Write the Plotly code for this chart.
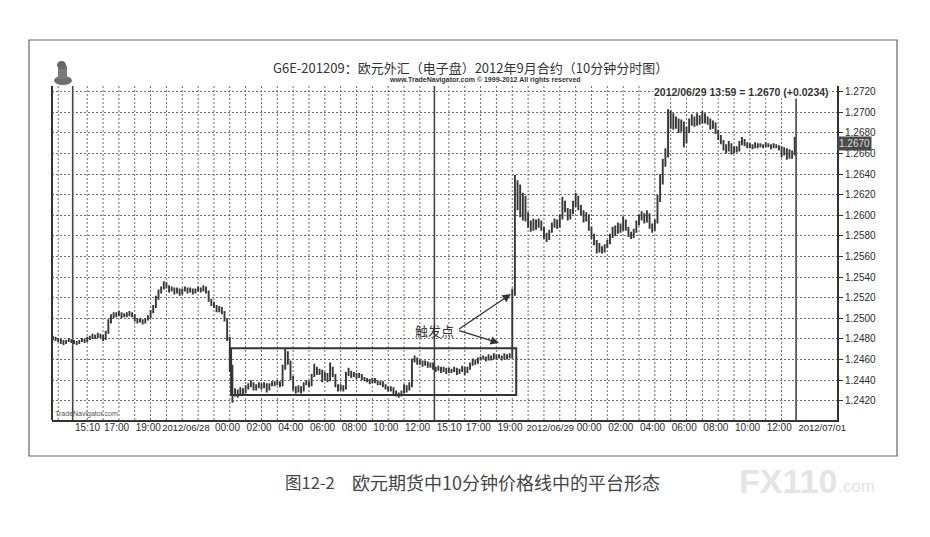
import numpy as np
import pandas as pd
import plotly.graph_objects as go

# ---------------- data ----------------
# 10-minute bars, three trading sessions (session start time, number of bars)
session_start = ["2012-06-27 12:40", "2012-06-27 15:10", "2012-06-28 15:10"]
session_bars = [8, 137, 137]

close = [
    1.2481, 1.2480, 1.2479, 1.2477, 1.2476, 1.2478, 1.2479, 1.2478,
    1.2477, 1.2476, 1.2478, 1.2479, 1.2478, 1.2480, 1.2481, 1.2483, 1.2482, 1.2484, 1.2483, 1.2480,
    1.2486, 1.2497, 1.2502, 1.2504, 1.2503, 1.2505, 1.2502, 1.2504, 1.2503, 1.2505, 1.2503,
    1.2499, 1.2497, 1.2498, 1.2496, 1.2499, 1.2501, 1.2506, 1.2511, 1.2520, 1.2526, 1.2529, 1.2533, 1.2531,
    1.2527, 1.2529, 1.2525, 1.2528, 1.2524, 1.2527, 1.2529, 1.2526, 1.2528, 1.2525, 1.2527, 1.2529, 1.2527, 1.2530, 1.2526,
    1.2518, 1.2514, 1.2512, 1.2508, 1.2510, 1.2506, 1.2499, 1.2481, 1.2452, 1.2428,
    1.2429, 1.2426, 1.2431, 1.2428, 1.2433, 1.2435, 1.2437, 1.2432, 1.2434, 1.2436, 1.2433, 1.2436, 1.2431, 1.2435, 1.2437, 1.2436, 1.2438, 1.2435,
    1.2452, 1.2466, 1.2458, 1.2443, 1.2432, 1.2429, 1.2433, 1.2430, 1.2436, 1.2438, 1.2435, 1.2444, 1.2452, 1.2447, 1.2449,
    1.2441, 1.2446, 1.2440, 1.2452, 1.2445, 1.2435, 1.2431, 1.2434, 1.2432, 1.2446, 1.2448, 1.2444, 1.2446, 1.2443, 1.2445, 1.2442,
    1.2441, 1.2440, 1.2438, 1.2441, 1.2439, 1.2437, 1.2438, 1.2435, 1.2433, 1.2431, 1.2432, 1.2429, 1.2427, 1.2426, 1.2428, 1.2434, 1.2431, 1.2435,
    1.2459, 1.2461, 1.2457, 1.2458, 1.2455, 1.2457, 1.2454, 1.2456, 1.2452,
    1.2450, 1.2452, 1.2449, 1.2451, 1.2448, 1.2450, 1.2449, 1.2451, 1.2447, 1.2449, 1.2452, 1.2448, 1.2451,
    1.2455, 1.2459, 1.2457, 1.2460, 1.2461, 1.2462, 1.2460, 1.2463, 1.2461, 1.2464, 1.2462, 1.2463, 1.2461, 1.2464, 1.2462, 1.2463,
    1.2526, 1.2612, 1.2628, 1.2605, 1.2618, 1.2600, 1.2592, 1.2587, 1.2594, 1.2590, 1.2594, 1.2588, 1.2580, 1.2577, 1.2584,
    1.2590, 1.2594, 1.2589, 1.2597, 1.2612, 1.2606, 1.2598, 1.2603, 1.2610, 1.2618, 1.2608, 1.2604, 1.2597, 1.2600,
    1.2588, 1.2580, 1.2574, 1.2571, 1.2568, 1.2566, 1.2570, 1.2573, 1.2580, 1.2586, 1.2583, 1.2590, 1.2586, 1.2594, 1.2588,
    1.2582, 1.2580, 1.2584, 1.2592, 1.2597, 1.2600, 1.2595, 1.2601, 1.2590, 1.2587, 1.2593, 1.2615, 1.2632, 1.2650, 1.2658,
    1.2690, 1.2698, 1.2688, 1.2692, 1.2684, 1.2690, 1.2674, 1.2682, 1.2690, 1.2694, 1.2689, 1.2695, 1.2691, 1.2697, 1.2692, 1.2693,
    1.2686, 1.2689, 1.2682, 1.2676, 1.2672, 1.2667, 1.2664, 1.2669, 1.2662, 1.2665, 1.2663, 1.2669, 1.2673, 1.2670, 1.2667,
    1.2668, 1.2666, 1.2669, 1.2667, 1.2668, 1.2667, 1.2669, 1.2668, 1.2666, 1.2668, 1.2667, 1.2666, 1.2660, 1.2664, 1.2657, 1.2662, 1.2659, 1.2670,
]

high = [
    1.2483, 1.2482, 1.2481, 1.2480, 1.2479, 1.2479, 1.2481, 1.2480,
    1.2479, 1.2478, 1.2479, 1.2481, 1.2480, 1.2482, 1.2483, 1.2485, 1.2484, 1.2486, 1.2485, 1.2484,
    1.2488, 1.2499, 1.2504, 1.2506, 1.2506, 1.2507, 1.2506, 1.2505, 1.2506, 1.2507, 1.2506,
    1.2504, 1.2500, 1.2500, 1.2499, 1.2500, 1.2503, 1.2508, 1.2513, 1.2522, 1.2528, 1.2531, 1.2536, 1.2535,
    1.2532, 1.2531, 1.2530, 1.2530, 1.2529, 1.2529, 1.2531, 1.2530, 1.2530, 1.2529, 1.2529, 1.2531, 1.2530, 1.2532, 1.2531,
    1.2527, 1.2519, 1.2516, 1.2513, 1.2512, 1.2511, 1.2507, 1.2500, 1.2482, 1.2455,
    1.2432, 1.2431, 1.2433, 1.2432, 1.2435, 1.2437, 1.2440, 1.2438, 1.2436, 1.2438, 1.2437, 1.2438, 1.2437, 1.2437, 1.2439, 1.2439, 1.2440, 1.2439,
    1.2455, 1.2471, 1.2468, 1.2459, 1.2444, 1.2434, 1.2435, 1.2434, 1.2438, 1.2440, 1.2439, 1.2446, 1.2456, 1.2453, 1.2451,
    1.2450, 1.2448, 1.2447, 1.2457, 1.2453, 1.2446, 1.2436, 1.2436, 1.2435, 1.2448, 1.2452, 1.2449, 1.2448, 1.2447, 1.2447, 1.2446,
    1.2443, 1.2442, 1.2441, 1.2442, 1.2442, 1.2440, 1.2439, 1.2439, 1.2436, 1.2434, 1.2434, 1.2433, 1.2430, 1.2428, 1.2430, 1.2436, 1.2435, 1.2438,
    1.2461, 1.2464, 1.2462, 1.2460, 1.2459, 1.2459, 1.2458, 1.2457, 1.2457,
    1.2453, 1.2454, 1.2453, 1.2453, 1.2452, 1.2452, 1.2451, 1.2453, 1.2452, 1.2451, 1.2454, 1.2453, 1.2453,
    1.2457, 1.2461, 1.2460, 1.2462, 1.2463, 1.2464, 1.2463, 1.2465, 1.2464, 1.2466, 1.2465, 1.2465, 1.2464, 1.2466, 1.2465, 1.2466,
    1.2529, 1.2639, 1.2634, 1.2630, 1.2622, 1.2619, 1.2603, 1.2595, 1.2597, 1.2596, 1.2597, 1.2595, 1.2589, 1.2583, 1.2586,
    1.2593, 1.2597, 1.2596, 1.2601, 1.2618, 1.2614, 1.2607, 1.2606, 1.2614, 1.2622, 1.2619, 1.2610, 1.2605, 1.2603,
    1.2601, 1.2589, 1.2582, 1.2576, 1.2573, 1.2570, 1.2572, 1.2576, 1.2582, 1.2589, 1.2590, 1.2593, 1.2592, 1.2599, 1.2596,
    1.2589, 1.2584, 1.2587, 1.2595, 1.2601, 1.2604, 1.2602, 1.2605, 1.2602, 1.2592, 1.2596, 1.2620, 1.2640, 1.2655, 1.2665,
    1.2703, 1.2702, 1.2699, 1.2696, 1.2694, 1.2693, 1.2691, 1.2686, 1.2694, 1.2698, 1.2696, 1.2699, 1.2697, 1.2701, 1.2699, 1.2696,
    1.2694, 1.2692, 1.2690, 1.2683, 1.2678, 1.2673, 1.2669, 1.2672, 1.2670, 1.2667, 1.2667, 1.2672, 1.2676, 1.2674, 1.2671,
    1.2670, 1.2669, 1.2671, 1.2670, 1.2670, 1.2669, 1.2671, 1.2670, 1.2669, 1.2670, 1.2669, 1.2668, 1.2667, 1.2666, 1.2665, 1.2664, 1.2663, 1.2676,
]

low = [
    1.2479, 1.2478, 1.2477, 1.2475, 1.2474, 1.2475, 1.2477, 1.2476,
    1.2475, 1.2474, 1.2475, 1.2477, 1.2476, 1.2477, 1.2479, 1.2480, 1.2480, 1.2481, 1.2481, 1.2478,
    1.2479, 1.2485, 1.2495, 1.2500, 1.2501, 1.2502, 1.2500, 1.2501, 1.2501, 1.2502, 1.2501,
    1.2497, 1.2495, 1.2496, 1.2494, 1.2495, 1.2498, 1.2500, 1.2505, 1.2510, 1.2518, 1.2524, 1.2528, 1.2529,
    1.2525, 1.2526, 1.2523, 1.2524, 1.2522, 1.2523, 1.2526, 1.2524, 1.2525, 1.2523, 1.2524, 1.2526, 1.2525, 1.2526, 1.2524,
    1.2516, 1.2512, 1.2510, 1.2506, 1.2506, 1.2504, 1.2497, 1.2478, 1.2448, 1.2418,
    1.2424, 1.2423, 1.2425, 1.2426, 1.2427, 1.2431, 1.2433, 1.2430, 1.2430, 1.2432, 1.2431, 1.2432, 1.2428, 1.2430, 1.2434, 1.2434, 1.2435, 1.2433,
    1.2434, 1.2450, 1.2455, 1.2440, 1.2430, 1.2427, 1.2428, 1.2427, 1.2429, 1.2435, 1.2433, 1.2434, 1.2443, 1.2445, 1.2445,
    1.2438, 1.2440, 1.2438, 1.2439, 1.2443, 1.2433, 1.2429, 1.2430, 1.2429, 1.2431, 1.2444, 1.2442, 1.2443, 1.2441, 1.2442, 1.2440,
    1.2439, 1.2438, 1.2436, 1.2437, 1.2437, 1.2435, 1.2435, 1.2433, 1.2431, 1.2429, 1.2429, 1.2426, 1.2424, 1.2423, 1.2424, 1.2427, 1.2428, 1.2430,
    1.2433, 1.2457, 1.2455, 1.2455, 1.2453, 1.2454, 1.2452, 1.2452, 1.2450,
    1.2448, 1.2449, 1.2447, 1.2448, 1.2446, 1.2447, 1.2447, 1.2448, 1.2445, 1.2446, 1.2448, 1.2445, 1.2447,
    1.2450, 1.2454, 1.2455, 1.2456, 1.2459, 1.2460, 1.2458, 1.2459, 1.2459, 1.2460, 1.2460, 1.2461, 1.2459, 1.2460, 1.2460, 1.2461,
    1.2461, 1.2522, 1.2605, 1.2598, 1.2595, 1.2594, 1.2588, 1.2584, 1.2585, 1.2586, 1.2588, 1.2585, 1.2577, 1.2574, 1.2576,
    1.2583, 1.2588, 1.2587, 1.2588, 1.2596, 1.2603, 1.2595, 1.2596, 1.2601, 1.2608, 1.2605, 1.2600, 1.2593, 1.2594,
    1.2585, 1.2577, 1.2571, 1.2563, 1.2564, 1.2563, 1.2564, 1.2568, 1.2572, 1.2578, 1.2580, 1.2582, 1.2583, 1.2585, 1.2585,
    1.2579, 1.2577, 1.2578, 1.2583, 1.2590, 1.2595, 1.2592, 1.2593, 1.2587, 1.2583, 1.2585, 1.2592, 1.2613, 1.2630, 1.2647,
    1.2656, 1.2684, 1.2683, 1.2684, 1.2680, 1.2681, 1.2666, 1.2670, 1.2680, 1.2687, 1.2686, 1.2687, 1.2688, 1.2689, 1.2689, 1.2688,
    1.2683, 1.2684, 1.2679, 1.2673, 1.2669, 1.2663, 1.2660, 1.2662, 1.2659, 1.2660, 1.2661, 1.2662, 1.2668, 1.2667, 1.2665,
    1.2665, 1.2664, 1.2665, 1.2665, 1.2666, 1.2665, 1.2666, 1.2666, 1.2664, 1.2665, 1.2665, 1.2663, 1.2656, 1.2658, 1.2654, 1.2655, 1.2655, 1.2658,
]

# x-axis labels and the clock time each one marks
tick_labels = ["15:10", "17:00", "19:00", "2012/06/28", "00:00", "02:00", "04:00", "06:00",
               "08:00", "10:00", "12:00", "15:10", "17:00", "19:00", "2012/06/29", "00:00",
               "02:00", "04:00", "06:00", "08:00", "10:00", "12:00", "2012/07/01"]
tick_times = ["2012-06-27 15:10", "2012-06-27 17:00", "2012-06-27 19:00", "2012-06-27 20:40",
              "2012-06-28 00:00", "2012-06-28 02:00", "2012-06-28 04:00", "2012-06-28 06:00",
              "2012-06-28 08:00", "2012-06-28 10:00", "2012-06-28 12:00", "2012-06-28 15:10",
              "2012-06-28 17:00", "2012-06-28 19:00", "2012-06-28 20:50", "2012-06-29 00:00",
              "2012-06-29 02:00", "2012-06-29 04:00", "2012-06-29 06:00", "2012-06-29 08:00",
              "2012-06-29 10:00", "2012-06-29 12:00", "2012-07-01 15:10"]

y_ticks = [1.2420, 1.2440, 1.2460, 1.2480, 1.2500, 1.2520, 1.2540, 1.2560, 1.2580,
           1.2600, 1.2620, 1.2640, 1.2660, 1.2680, 1.2700, 1.2720]

# consolidation platform drawn as a box (start/end time, price band)
platform_start = "2012-06-28 01:10"
platform_end = "2012-06-28 20:10"
platform_low = 1.24255
platform_high = 1.24709

last_price_text = "1.2670"
header_text = "2012/06/29 13:59 = 1.2670 (+0.0234)"

# ---------------- build ----------------
times = pd.DatetimeIndex(np.concatenate([
    pd.date_range(s, periods=n, freq="10min").values
    for s, n in zip(session_start, session_bars)]))
n = min(len(times), len(close), len(high), len(low))
times = times[:n]
close, high, low = close[:n], high[:n], low[:n]
idx = np.arange(n)
open_ = [close[0]] + close[:-1]

tick_pos = times.searchsorted(pd.to_datetime(tick_times)).tolist()
tick_text = [f'<span style="font-size:9.5px">{t}</span>' if "/" in t else t for t in tick_labels]
hour_pos = [i for i, t in enumerate(times) if t.minute == 0]
sess_pos = (np.cumsum(session_bars)[:-1] - 0.5).tolist() + [n - 0.5]
box_x0 = times.searchsorted(pd.Timestamp(platform_start)) - 0.5
box_x1 = times.searchsorted(pd.Timestamp(platform_end)) + 0.5

BAR = "#383838"
FONT_N = "Liberation Sans, Arial, sans-serif"
CJK = "Noto Sans CJK SC, Noto Sans, sans-serif"

# plot area in page pixels: x 52..837, y 86..420
def px(x):
    return (x - 52) / 785.0

def py(y):
    return (420 - y) / 334.0

fig = go.Figure()
fig.add_trace(go.Ohlc(
    x=idx, open=open_, high=high, low=low, close=close,
    increasing=dict(line=dict(color=BAR, width=1.9)),
    decreasing=dict(line=dict(color=BAR, width=1.9)),
    tickwidth=0.3, hoverinfo="skip", showlegend=False))

shapes = []
for p in hour_pos:
    shapes.append(dict(type="line", xref="x", yref="paper", x0=p, x1=p, y0=0, y1=1,
                       line=dict(color="#6a6a6a", width=1, dash="2px,2px"), layer="below"))
for p in sess_pos:
    shapes.append(dict(type="line", xref="x", yref="paper", x0=p, x1=p, y0=0, y1=1,
                       line=dict(color="#444", width=1.6), layer="below"))
shapes.append(dict(type="rect", xref="x", yref="y", x0=box_x0, x1=box_x1,
                   y0=platform_low, y1=platform_high,
                   line=dict(color="#333", width=2), fillcolor="rgba(0,0,0,0)"))
shapes.append(dict(type="line", xref="paper", yref="paper", x0=0, x1=0, y0=0, y1=1,
                   line=dict(color="#333", width=2)))
# outer frame of the figure
shapes.append(dict(type="rect", xref="paper", yref="paper",
                   x0=px(29), x1=px(897), y0=py(456), y1=py(40),
                   line=dict(color="#666", width=1.2), fillcolor="rgba(0,0,0,0)", layer="below"))
# small TradeNavigator logo (top-left)
shapes.append(dict(type="circle", xref="paper", yref="paper",
                   x0=px(54), x1=px(72), y0=py(85), y1=py(76),
                   line=dict(width=0), fillcolor="#6e6e6e"))
shapes.append(dict(type="rect", xref="paper", yref="paper",
                   x0=px(58), x1=px(67), y0=py(79), y1=py(66),
                   line=dict(width=0), fillcolor="#7a7a7a"))
shapes.append(dict(type="circle", xref="paper", yref="paper",
                   x0=px(57), x1=px(66), y0=py(69), y1=py(61),
                   line=dict(width=0), fillcolor="#666"))

MID = dict(yanchor="middle", showarrow=False)
annotations = [
    dict(text="G6E-201209：欧元外汇（电子盘）2012年9月合约（10分钟分时图）",
         xref="paper", yref="paper", x=px(470), y=py(68), xanchor="center",
         font=dict(family=CJK, size=13, color="#333"), **MID),
    dict(text="www.TradeNavigator.com © 1999-2012 All rights reserved",
         xref="paper", yref="paper", x=px(485), y=py(80), xanchor="center",
         font=dict(family="Liberation Sans, Arial", size=7, color="#333", weight="bold"), **MID),
    dict(text=header_text, xref="paper", yref="paper", x=px(830), y=py(92),
         xanchor="right", bgcolor="white", borderpad=0,
         font=dict(family=FONT_N, size=10.5, color="#333", weight="bold"), **MID),
    dict(text="TradeNavigator.com", xref="paper", yref="paper", x=px(53), y=py(414),
         xanchor="left", font=dict(family="Liberation Sans, Arial", size=7, color="#555"), **MID),
    dict(text=last_price_text, xref="paper", yref="y", x=1.0, y=close[-1],
         xanchor="left", bgcolor="#4a4a4a", borderpad=1,
         font=dict(family=FONT_N, size=10, color="#ddd"), **MID),
    dict(text="触发点", xref="x", yref="y", x=144.4, y=1.24886, xanchor="center",
         font=dict(family=CJK, size=13, color="#333"), **MID),
    dict(text="图12-2", xref="paper", yref="paper", x=px(283), y=py(482),
         xanchor="left", font=dict(family=CJK, size=16.5, color="#444"), **MID),
    dict(text="欧元期货中10分钟价格线中的平台形态", xref="paper", yref="paper", x=px(350), y=py(482),
         xanchor="left", font=dict(family=CJK, size=18, color="#444"), **MID),
    dict(text="FX110", xref="paper", yref="paper", x=px(737), y=py(481),
         xanchor="left",
         font=dict(family="Liberation Sans, Arial", size=34, color="#e4e4e4", weight="bold"), **MID),
    dict(text=".com", xref="paper", yref="paper", x=px(836), y=py(486),
         xanchor="left",
         font=dict(family="Liberation Sans, Arial", size=17, color="#e4e4e4"), **MID),
    dict(text="", xref="x", yref="y", x=173.5, y=1.25236, ax=153.3, ay=1.24886,
         axref="x", ayref="y", showarrow=True, arrowhead=2, arrowsize=1.3,
         arrowwidth=1.3, arrowcolor="#333", standoff=0),
    dict(text="", xref="x", yref="y", x=169.0, y=1.2476, ax=153.3, ay=1.24886,
         axref="x", ayref="y", showarrow=True, arrowhead=2, arrowsize=1.3,
         arrowwidth=1.3, arrowcolor="#333", standoff=0),
]

# page body has an 8px margin, so the figure is 8px smaller than the window
fig.update_layout(
    width=922, height=529,
    margin=dict(l=44, r=93, t=78, b=117, autoexpand=False),
    paper_bgcolor="white", plot_bgcolor="white",
    shapes=shapes, annotations=annotations,
    xaxis=dict(range=[-0.34, 297.0], rangeslider=dict(visible=False), automargin=False,
               showgrid=False, zeroline=False, showline=True, linecolor="#333", linewidth=2,
               tickmode="array", tickvals=tick_pos, ticktext=tick_text, ticks="",
               tickangle=0, ticklabelposition="outside right", ticklabeloverflow="allow",
               ticklabelstandoff=-3,
               tickfont=dict(family=FONT_N, size=10, color="#2a2a2a")),
    yaxis=dict(range=[1.24013, 1.27255], side="right", showgrid=True, automargin=False,
               gridcolor="#6a6a6a", griddash="2px,2px", gridwidth=1, zeroline=False,
               showline=True, linecolor="#333", linewidth=2,
               tickmode="array", tickvals=y_ticks, ticktext=[f"{v:.4f}" for v in y_ticks],
               ticks="outside", ticklen=4, tickcolor="#333",
               tickfont=dict(family=FONT_N, size=10, color="#2a2a2a")),
)

fig.write_html("out.html")
